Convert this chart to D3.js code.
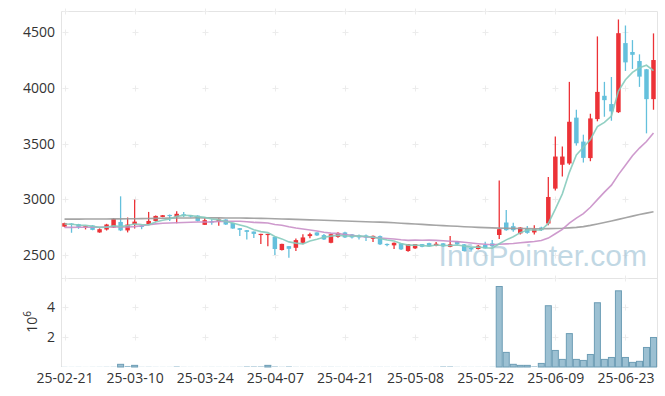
<!DOCTYPE html>
<html><head><meta charset="utf-8">
<script src="https://cdn.jsdelivr.net/npm/d3@7"></script>
<style>body{margin:0;background:#fff}svg{display:block}</style>
</head><body><svg id="c" width="665" height="396"></svg>
<script>
const dates = ["25-02-21","25-02-24","25-02-25","25-02-26","25-02-27","25-02-28","25-03-04","25-03-05","25-03-06","25-03-07",
"25-03-10","25-03-11","25-03-12","25-03-13","25-03-14","25-03-17","25-03-18","25-03-19","25-03-20","25-03-21",
"25-03-24","25-03-25","25-03-26","25-03-27","25-03-28","25-03-31","25-04-01","25-04-02","25-04-03","25-04-04",
"25-04-07","25-04-08","25-04-09","25-04-10","25-04-11","25-04-14","25-04-15","25-04-16","25-04-17","25-04-18",
"25-04-21","25-04-22","25-04-23","25-04-24","25-04-25","25-04-28","25-04-29","25-04-30","25-05-02","25-05-07",
"25-05-08","25-05-09","25-05-12","25-05-13","25-05-14","25-05-15","25-05-16","25-05-19","25-05-20","25-05-21",
"25-05-22","25-05-23","25-05-26","25-05-27","25-05-28","25-05-29","25-05-30","25-06-02","25-06-04","25-06-05",
"25-06-09","25-06-10","25-06-11","25-06-12","25-06-13","25-06-16","25-06-17","25-06-18","25-06-19","25-06-20",
"25-06-23","25-06-24","25-06-25","25-06-26","25-06-27"];

const open = [2755,2783,2777,2750,2765,2703,2729,2747,2797,2721,
2774,2762,2774,2806,2842,2860,2842,2866,2857,2854,
2771,2803,2801,2819,2788,2741,2723,2711,2683,2683,
2663,2545,2580,2565,2610,2670,2703,2679,2610,2663,
2703,2685,2676,2676,2646,2670,2600,2587,2604,2536,
2560,2598,2607,2583,2605,2574,2622,2596,2565,2554,
2590,2605,2680,2792,2759,2694,2735,2703,2747,2783,
3096,3310,3322,3733,3518,3370,3720,3929,3855,3782,
4402,4322,4241,4167,3899];
const high = [2790,2786,2780,2762,2768,2740,2780,2830,3027,2837,
2997,2765,2887,2855,2860,2863,2893,2887,2860,2857,
2830,2821,2830,2822,2790,2742,2725,2712,2692,2692,
2665,2602,2582,2649,2687,2699,2705,2688,2692,2705,
2710,2688,2685,2685,2675,2675,2603,2613,2606,2600,
2600,2600,2610,2616,2608,2670,2625,2598,2572,2590,
2620,2634,3170,2905,2790,2750,2760,2768,2755,3200,
3563,3473,4054,3804,3580,3768,4462,4054,4098,4614,
4560,4429,4301,4170,4489];
const low = [2750,2700,2735,2730,2722,2700,2720,2745,2715,2703,
2738,2732,2770,2800,2840,2806,2785,2842,2837,2800,
2770,2771,2762,2770,2735,2670,2640,2654,2600,2578,
2500,2540,2476,2536,2596,2651,2670,2635,2605,2655,
2652,2648,2640,2625,2616,2590,2580,2554,2545,2530,
2555,2570,2575,2580,2575,2570,2593,2533,2540,2550,
2558,2575,2645,2718,2708,2685,2690,2685,2715,2768,
3080,3205,3310,3482,3330,3342,3700,3741,3705,3775,
4152,4170,4009,3592,3804];
const close = [2786,2771,2753,2759,2726,2732,2774,2824,2721,2774,
2800,2753,2806,2851,2857,2850,2870,2854,2845,2806,
2813,2795,2819,2774,2738,2726,2708,2690,2690,2690,
2554,2600,2556,2634,2658,2687,2676,2640,2687,2699,
2658,2658,2658,2658,2672,2596,2592,2610,2551,2598,
2598,2574,2578,2601,2578,2596,2596,2536,2550,2583,
2560,2580,2732,2723,2723,2747,2699,2732,2723,3021,
3384,3384,3696,3503,3372,3726,3964,3890,3789,4491,
4229,4297,4101,3899,4250];

const ma5 = [2778,2776,2770,2766,2759,2748,2749,2763,2755,2765,
2779,2774,2771,2797,2813,2823,2847,2856,2855,2845,
2838,2823,2816,2801,2788,2770,2753,2727,2710,2701,
2666,2645,2618,2607,2600,2627,2642,2659,2670,2678,
2672,2668,2672,2666,2661,2648,2635,2626,2604,2589,
2590,2586,2580,2590,2586,2585,2590,2581,2571,2572,
2565,2562,2601,2636,2664,2701,2725,2725,2725,2784,
2912,3049,3242,3398,3468,3536,3652,3691,3748,3972,
4073,4139,4181,4203,4155];
const ma20 = [2748,2748,2749,2749,2750,2750,2751,2751,2752,2752,
2755,2763,2772,2780,2785,2788,2790,2792,2794,2796,
2797,2798,2801,2802,2803,2803,2799,2793,2791,2787,
2774,2767,2754,2743,2734,2725,2716,2705,2697,2692,
2684,2677,2669,2663,2660,2653,2648,2644,2637,2632,
2634,2633,2634,2632,2628,2624,2620,2615,2608,2602,
2597,2593,2597,2600,2603,2610,2616,2622,2630,2652,
2691,2731,2787,2832,2872,2929,2997,3065,3127,3222,
3305,3391,3460,3519,3595];
const ma120 = [2822,2822,2822,2823,2823,2824,2824,2825,2825,2826,
2826,2827,2828,2829,2830,2831,2832,2833,2833,2834,
2834,2834,2834,2833,2833,2832,2831,2830,2829,2828,
2826,2824,2822,2820,2818,2816,2814,2812,2810,2808,
2805,2803,2801,2799,2797,2795,2793,2790,2786,2782,
2778,2775,2771,2768,2764,2761,2758,2754,2751,2748,
2746,2744,2742,2740,2739,2738,2737,2736,2736,2737,
2738,2740,2744,2748,2755,2766,2779,2792,2806,2820,
2835,2849,2863,2876,2888];

const volume = [12000,8000,10000,6000,9000,11000,15000,20000,180000,70000,
110000,12000,15000,10000,8000,9000,40000,10000,8000,6000,
7000,9000,8000,7000,10000,15000,40000,40000,40000,110000,
40000,15000,40000,12000,10000,9000,8000,10000,12000,8000,
7000,6000,7000,6000,9000,10000,8000,7000,9000,8000,
6000,7000,6000,10000,40000,40000,12000,10000,8000,9000,
10000,15000,5400000,980000,180000,110000,110000,50000,240000,4110000,
1110000,510000,2240000,510000,440000,840000,4310000,510000,640000,5110000,
640000,310000,380000,1310000,1980000];

const priceTicks = [2500,3000,3500,4000,4500];
const volumeTicks = [2000000,4000000];
const tickLabels = ["25-02-21","25-03-10","25-03-24","25-04-07","25-04-21","25-05-08","25-05-22","25-06-09","25-06-23"];

const L=61, R=657, T=11, MID=278, B=367;
const svg = d3.select("#c");
svg.append("rect").attr("width",665).attr("height",396).attr("fill","#fff");

const x = d3.scalePoint().domain(dates).range([L,R]).padding(0.5);
const step = x.step();
const y = d3.scaleLinear().domain([2294,4690]).range([MID,T]);
const yv = d3.scaleLinear().domain([0,5970000]).range([B,MID]);

const font = "'Open Sans', sans-serif";
const grid = svg.append("g");
grid.append("path").attr("d",`M${L+0.5},${T+0.5}H${R+0.5}V${B}M${L+0.5},${T+0.5}V${B}M${L+0.5},${MID+0.5}H${R+0.5}`)
  .attr("stroke","#e4e4e4").attr("fill","none");
const cross = (cx,cy)=>grid.append("path").attr("d",`M${cx-3},${cy}H${cx+3}M${cx},${cy-3}V${cy+3}`)
  .attr("stroke","#ececec").attr("stroke-width",1);
tickLabels.forEach(t=>{
  const cx = Math.round(x(t))+0.5;
  priceTicks.forEach(v=>cross(cx, Math.round(y(v))+0.5));
  volumeTicks.forEach(v=>cross(cx, Math.round(yv(v))+0.5));
  cross(cx, T+0.5); cross(cx, MID+0.5);
});

// watermark
svg.append("text").attr("x",647).attr("y",266).attr("text-anchor","end")
  .attr("font-family","'Liberation Sans', Arial, sans-serif").attr("font-size",30)
  .attr("fill","#8fb9cf").attr("opacity",0.55).text("InfoPointer.com");

// volume bars
svg.append("g").selectAll("rect").data(volume).join("rect")
  .attr("x",(d,i)=>x(dates[i])-step/2+0.5)
  .attr("width",step-1)
  .attr("y",d=>yv(d))
  .attr("height",d=>B-yv(d))
  .attr("fill","#9cc0d2")
  .attr("stroke",d=>(B-yv(d))>1.5?"#6d9db5":"none")
  .attr("stroke-width",1);

// candles
const cg = svg.append("g");
const bw = step*0.64;
dates.forEach((d,i)=>{
  const up = close[i]>=open[i];
  const col = up ? "#ec3237" : "#64c0dc";
  const cx = x(d);
  cg.append("line").attr("x1",cx).attr("x2",cx).attr("y1",y(high[i])).attr("y2",y(low[i]))
    .attr("stroke",col).attr("stroke-width",1.3);
  const y0 = y(Math.max(open[i],close[i])), y1 = y(Math.min(open[i],close[i]));
  cg.append("rect").attr("x",cx-bw/2).attr("width",bw).attr("y",y0).attr("height",Math.max(1.2,y1-y0)).attr("fill",col);
});

// moving averages
const line = d3.line().x((d,i)=>x(dates[i])).y(d=>y(d));
[[ma120,"#9b9b9b"],[ma20,"#c98fc8"],[ma5,"#86cbbd"]].forEach(([arr,c])=>{
  svg.append("path").datum(arr).attr("d",line).attr("fill","none")
    .attr("stroke",c).attr("stroke-width",1.6).attr("opacity",0.9);
});

// axes
const ay = svg.append("g").attr("transform",`translate(${L},0)`)
  .call(d3.axisLeft(y).tickValues(priceTicks).tickSize(0).tickPadding(6).tickFormat(d3.format("d")));
const av = svg.append("g").attr("transform",`translate(${L},0)`)
  .call(d3.axisLeft(yv).tickValues(volumeTicks).tickSize(0).tickPadding(6).tickFormat(v=>v/1e6));
const ax = svg.append("g").attr("transform",`translate(0,${B})`)
  .call(d3.axisBottom(x).tickValues(tickLabels).tickSize(0).tickPadding(6));
[ay,av,ax].forEach(g=>{
  g.select(".domain").remove();
  g.selectAll("text").attr("font-family",font).attr("font-size",14).attr("fill","#333");
});

// 10^6 label
const ut = svg.append("text").attr("transform","translate(37,322) rotate(-90)")
  .attr("text-anchor","middle").attr("font-family",font).attr("font-size",14).attr("fill","#333");
ut.append("tspan").text("10");
ut.append("tspan").attr("dy",-6).attr("font-size",10).text("6");
</script></body></html>
